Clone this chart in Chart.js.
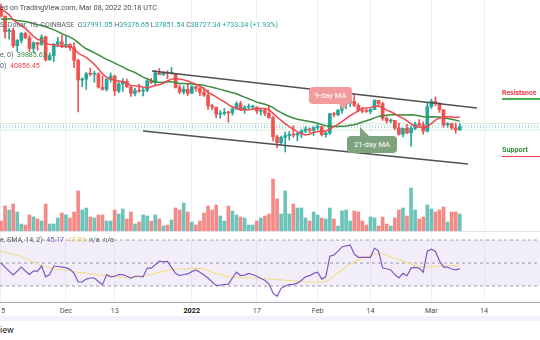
<!DOCTYPE html>
<html><head><meta charset="utf-8">
<script src="https://cdn.jsdelivr.net/npm/chart.js@4.4.1/dist/chart.umd.min.js"></script>
<style>
html,body{margin:0;padding:0;background:#fff;}
body{width:540px;height:340px;position:relative;overflow:hidden;font-family:Roboto,"Liberation Sans",sans-serif;}
canvas{position:absolute;left:0;}
.t{position:absolute;white-space:pre;line-height:1;}
.g{color:#5d606b;}
.up{color:#26a69a;}
.hl{position:absolute;left:0;width:540px;height:1px;}
.bub{position:absolute;color:#fff;font-size:7.6px;display:flex;align-items:center;justify-content:center;border-radius:4px;}
</style></head><body>
<canvas id="main" width="540" height="232" style="top:0"></canvas>
<canvas id="rsi" width="540" height="70" style="top:232px"></canvas>
<div class="hl" style="top:231px;background:#e0e3eb"></div>
<div class="hl" style="top:302px;background:#a3a6af"></div>
<div class="hl" style="top:316px;height:5px;background:#f0f3fa"></div>
<div id="xlabels"></div>

<div class="t g" style="left:0;top:4px;font-size:7.3px;color:#4a4d57">ed on TradingView.com, Mar 08, 2022 20:18 UTC</div>
<div class="t g" style="left:0;top:21px;font-size:7.1px">S. Dollar, 1D, COINBASE  <span>O</span><span class="up">37991.05</span> <span>H</span><span class="up">39376.65</span> <span>L</span><span class="up">37851.54</span> <span>C</span><span class="up">38727.34</span> <span class="up">+733.34 (+1.93%)</span></div>
<div class="t g" style="left:0;top:51px;font-size:7.1px">e, 0)  <span style="color:#3b8a3e">39885.63</span></div>
<div class="t g" style="left:0;top:62px;font-size:7.1px">0)  <span style="color:#f0484f">40856.45</span></div>
<div class="t g" style="left:0;top:236px;font-size:7.1px">e, SMA, 14, 2)  <span style="color:#7e57c2">45.17</span>  <span style="color:#e9cf5a">47.88</span>  n/a  n/a</div>
<div class="t" style="left:0;top:326px;font-size:9px;color:#131722">iew</div>

<div class="bub" style="left:309px;top:87px;width:43px;height:17px;background:#f29a9c">9-day MA</div>
<div style="position:absolute;left:339px;top:104px;width:0;height:0;border-left:4px solid transparent;border-right:4px solid transparent;border-top:6px solid #f29a9c"></div>
<div class="bub" style="left:347px;top:136px;width:50px;height:17px;background:#7fa380">21-day MA</div>
<div style="position:absolute;left:360px;top:127px;width:0;height:0;border-right:9px solid transparent;border-bottom:9px solid #7fa380"></div>

<div class="t" style="left:502px;top:89px;font-size:8px;font-weight:bold;color:#f23645;transform-origin:0 0;transform:scaleX(0.86)">Resistance</div>
<div class="hl" style="left:502px;width:38px;top:98px;height:1.5px;background:#4caf50"></div>
<div class="t" style="left:502px;top:146px;font-size:8px;font-weight:bold;color:#2e8b3a;transform-origin:0 0;transform:scaleX(0.9)">Support</div>
<div class="hl" style="left:502px;width:38px;top:155.5px;height:1.5px;background:#f23645"></div>

<script>
// ---- data (BTC/USD daily, Nov 15 2021 .. Mar 8 2022) ----
const startLabel = '2021-11-15';
const open = [65500,63600,60100,60400,56900,58100,59700,58700,56300,57600,
57200,58900,53700,54700,57300,57800,57000,57200,56500,53600,
49200,49400,50600,50500,50600,47600,47100,49400,50100,46700,
48300,48900,47600,46200,46800,46700,46900,49000,48600,50800,
50400,50800,50700,50700,47500,46500,47100,46200,47700,47300,
46400,45800,43400,43100,41500,41700,41900,41800,42700,43900,
42600,43100,43100,43100,42200,42400,41700,40700,36400,35100,
36300,36700,37000,36800,37200,37700,38200,37900,38500,38700,
36900,37300,41600,41400,42400,43800,44000,44400,43500,42400,
42200,42100,42600,44600,43900,40600,40000,40100,38400,37000,
38300,37300,38300,39200,39100,37700,43200,44400,44000,42500,
39100,39400,38400,37991];
const high = [66300,63600,60800,60900,58300,59900,60000,59300,57800,57700,
59400,59100,55300,57400,58800,59200,59000,57400,57600,53900,
49700,50900,51900,51200,50800,50100,49500,50800,50300,48700,
49500,49400,48000,47300,48300,47500,49300,49600,51400,51800,
51100,51300,52000,50700,48100,47900,48500,47900,47900,47500,
47500,47000,43700,43100,42300,42800,42200,43100,44300,44400,
43400,43800,43500,43200,42700,42600,43500,41100,36800,36600,
37500,37600,38900,37300,38000,38700,38400,38700,39300,38900,
37400,41700,41900,42600,44500,45500,44800,45800,43900,43000,
42700,42900,44800,44600,44200,40900,40400,40100,39500,38400,
39200,38900,39700,40300,39800,44000,44900,45400,44100,42500,
39600,39400,39500,39377];
const low = [63400,58600,58400,56500,55600,57500,58500,55600,55400,55900,
57000,53500,53700,53300,56700,56500,56500,55800,52000,42000,
47700,47100,50100,48700,47400,46900,46700,48700,45700,46300,
46600,47600,45500,45600,46400,45600,46600,48400,47900,50400,
50200,49500,50500,47400,46100,46000,45700,46200,46700,45700,
45500,42600,42500,40700,40600,41300,39700,41300,42500,42300,
41700,42600,42600,41600,41300,41200,40600,35500,34000,34600,
33000,35700,36300,35500,36200,37300,37400,36700,38000,36600,
36300,36900,40900,41100,41700,42700,43200,43200,42000,41800,
41900,41600,42500,43300,40100,39500,39600,38000,36800,36400,
37100,34300,38000,38700,37000,37500,42800,43400,41900,38600,
38600,38100,37200,37851];
const close = [63600,60100,60400,56900,58100,59700,58700,56300,57600,57200,
58900,53700,54700,57300,57800,57000,57200,56500,53600,49200,
49400,50600,50500,50600,47600,47100,49400,50100,46700,48300,
48900,47600,46200,46800,46700,46900,49000,48600,50800,50400,
50800,50700,50700,47500,46500,47100,46200,47700,47300,46400,
45800,43400,43100,41500,41700,41900,41800,42700,43900,42600,
43100,43100,43100,42200,42400,41700,40700,36400,35100,36300,
36700,37000,36800,37200,37700,38200,37900,38500,38700,36900,
37300,41600,41400,42400,43800,44000,44400,43500,42400,42200,
42100,42600,44600,43900,40600,40000,40100,38400,37000,38300,
37300,38300,39200,39100,37700,43200,44400,44000,42500,39100,
39400,38400,37990,38727];
// volume, thousand BTC
const volume = [11,26,22,28,20,8,7,17,15,13,
11,28,8,8,14,19,17,14,20,41,
22,24,15,14,17,17,11,11,22,18,
23,13,20,8,10,17,16,11,17,13,
6,7,12,24,22,29,20,10,7,11,
19,26,22,27,16,11,26,21,17,15,
14,7,7,11,14,16,18,53,33,18,
41,18,28,24,24,14,11,20,17,14,
13,24,13,6,21,22,11,21,20,11,
7,15,14,6,15,8,6,14,22,24,
16,44,22,13,15,27,23,20,22,25,
10,20,20,18];
const ma9 = [65000,64640,63860,62740,61990,61420,60820,59920,59040,58330,
58200,57460,57210,57120,56910,56720,56820,56700,56300,55220,
54740,54290,53530,52730,51690,50570,49780,49390,49110,48990,
48800,48480,47990,47900,47860,47580,47460,47670,47940,48110,
48470,48970,49400,49490,49440,49230,48970,48620,48280,47790,
47240,46430,45940,45390,44790,44310,43660,43140,42870,42510,
42480,42480,42660,42710,42770,42760,42530,41700,40870,40110,
39400,38720,38120,37540,37100,36820,36990,37370,37630,37660,
37690,38220,38690,39210,39830,40510,41170,41700,42310,42860,
42910,43040,43290,43300,42920,42430,42060,41610,41030,40610,
40020,39320,38800,38630,38380,38720,39390,40170,40630,40830,
40960,40870,40740,40856];
const ma21 = [62900,62890,62980,62800,62600,62500,62380,62150,61890,61610,
61500,61150,60820,60540,60080,59600,59240,58840,58340,57620,
56850,56230,55780,55310,54870,54340,53850,53440,52990,52540,
52150,51610,51250,50880,50370,49850,49470,49060,48790,48640,
48710,48780,48780,48640,48440,48420,48380,48300,48160,48150,
48030,47770,47550,47330,47090,46860,46610,46310,46090,45700,
45350,44990,44620,44220,43980,43750,43440,42980,42380,41850,
41390,40970,40660,40380,40200,40030,39840,39680,39490,39160,
38900,38830,38750,38720,38800,38870,39000,39130,39420,39760,
40030,40310,40680,41010,41180,41290,41380,41400,41330,41310,
41330,41380,41260,41150,40930,40900,40920,40900,40850,40700,
40560,40390,40170,39886];
const rsi = [50,46.5,43,39.6,43,46.5,43,40,43,43,
47.4,38,40,47.4,47,46.5,46,44.5,41,33.5,
33.5,36,37,37,34,31,40,38,38.5,40,
40,38.5,37,38.5,38.5,38,45.6,45.6,48.5,51.7,
51,51.5,46,41,39,40,40.5,42.5,44,42,
39.5,37,33.5,30.5,30.8,31.3,31.7,37,42,39,
39.5,41,40,38.5,36.5,35,31.7,24,21,28,
30,31.2,31.5,32.5,35,38,39,41,42,36,
38,56,57,60.4,64,65,65.6,58,55,55,
55,55,63,60.4,45.6,45,44,40,37,41,
39,45.6,46.2,45.6,42,60.4,62,60,52,46.5,
46.5,44.8,44,45.17];
const rsiMa = [60.4,59.5,58.6,57.7,56.8,55.5,54,52.5,51,49.5,
48,47,46,44.8,44.5,44.2,44,43.3,42.7,42,
41.5,41,40.6,40.2,39.7,39.4,39.1,38.8,38.5,38,
37.5,37,37.3,37.7,38,38.7,39.5,40.2,41,41.9,
42.8,43.6,44.5,44.8,44.8,44.8,44.9,45.2,45.4,45.6,
44.6,43.5,42,41,40,39,38.2,37.8,37.5,37.2,
37,37,37,37,37,36.6,36,35.8,35.5,35.3,
35,34.8,34.5,34,33.6,33.5,33.5,33.5,33.5,33.5,
33.5,36,39,41.5,44,46.5,49,51,52.5,54,
55.2,56.4,57.5,58.5,58,57,55.5,54,53,51.7,
50.5,49.2,47.8,47.2,47,46.6,46.6,47,47.3,47.5,
47.6,47.7,47.8,47.88];
// channel lines (day index, price)
const upperLineX = [37.2, 117.2], upperLineY = [51225, 42900];
const lowerLineX = [35.0, 115.0], lowerLineY = [37725, 30300];
const priceLevels = [39460, 37950];
const dottedLevels = [38900, 38480];
const rsiLevels = [70, 50, 30];
// x-axis ticks (day index from Nov 15)
const tickDays = [0, 16, 28, 47, 63, 78, 91, 106, 119];
const tickLabels = ['15', 'Dec', '13', '2022', '17', 'Feb', '14', 'Mar', '14'];

// ---- view ----
const X_MIN = -0.2463, X_MAX = 132.76;
const UP = '#26a69a', DN = '#ef5350';
const GRID = '#eef1f6';
const idx = close.map((_, i) => i);
const isUp = idx.map(i => close[i] >= open[i]);
const pts = arr => arr.map((v, i) => ({x: i, y: v}));
const seg = (xs, ys) => xs.map((x, i) => ({x, y: ys[i]}));
const hline = v => [{x: X_MIN, y: v}, {x: X_MAX, y: v}];

const xScale = () => ({
  type: 'linear', min: X_MIN, max: X_MAX, offset: false,
  afterFit: a => { a.height = 0; },
  afterBuildTicks: a => { a.ticks = tickDays.map(v => ({value: v})); },
  ticks: {display: false},
  grid: {color: GRID, drawTicks: false, offset: false},
  border: {display: false}
});

const mainDatasets = [
  {type: 'line', data: seg(upperLineX, upperLineY), borderColor: '#505050', borderWidth: 1.6, pointRadius: 0, order: 1},
  {type: 'line', data: seg(lowerLineX, lowerLineY), borderColor: '#505050', borderWidth: 1.6, pointRadius: 0, order: 1},
  {type: 'line', data: pts(ma9), borderColor: '#f0484f', borderWidth: 1.5, pointRadius: 0, order: 2},
  {type: 'line', data: pts(ma21), borderColor: '#3b8a3e', borderWidth: 1.5, pointRadius: 0, order: 2},
  {type: 'bar', data: idx.map(i => ({x: i, y: [Math.min(open[i], close[i]), Math.max(open[i], close[i])]})),
   backgroundColor: idx.map(i => isUp[i] ? UP : DN), barThickness: 3, grouped: false, minBarLength: 1, order: 3},
  {type: 'bar', data: idx.map(i => ({x: i, y: [low[i], high[i]]})),
   backgroundColor: idx.map(i => isUp[i] ? UP : DN), barThickness: 1, grouped: false, order: 4},
  {type: 'bar', data: pts(volume), yAxisID: 'yv',
   backgroundColor: idx.map(i => isUp[i] ? 'rgba(38,166,154,0.68)' : 'rgba(239,83,80,0.68)'), barThickness: 3, grouped: false, order: 6},
];
priceLevels.forEach(v => mainDatasets.push({type: 'line', data: hline(v), borderColor: '#d7ecd6', borderWidth: 1, pointRadius: 0, order: 7}));
dottedLevels.forEach(v => mainDatasets.push({type: 'line', data: hline(v), borderColor: '#8fc9d0', borderDash: [1, 2], borderWidth: 1, pointRadius: 0, order: 7}));

const mainChart = new Chart(document.getElementById('main'), {
  type: 'bar',
  data: {datasets: mainDatasets},
  options: {
    responsive: false, animation: false, devicePixelRatio: 1,
    layout: {padding: 0},
    plugins: {legend: {display: false}, tooltip: {enabled: false}},
    scales: {
      x: xScale(),
      y: {type: 'linear', min: 15000, max: 67200,
          afterFit: a => { a.width = 0; },
          ticks: {display: false, stepSize: 5000},
          grid: {color: c => (c.tick && c.tick.value % 5000 === 0) ? GRID : 'rgba(0,0,0,0)', drawTicks: false},
          border: {display: false}},
      yv: {type: 'linear', display: false, min: 0, max: 232}
    }
  }
});

const rsiDatasets = [
  {data: pts(rsi), borderColor: '#7e57c2', borderWidth: 1.2, pointRadius: 0, order: 1},
  {data: pts(rsiMa), borderColor: '#f3df8f', borderWidth: 1.2, pointRadius: 0, order: 2},
  {data: hline(rsiLevels[0]), borderColor: '#9a9da6', borderDash: [3, 3], borderWidth: 1, pointRadius: 0,
   fill: {value: rsiLevels[2]}, backgroundColor: 'rgba(126,87,194,0.1)', order: 5},
  {data: hline(rsiLevels[1]), borderColor: '#9a9da6', borderDash: [3, 3], borderWidth: 1, pointRadius: 0, order: 5},
  {data: hline(rsiLevels[2]), borderColor: '#9a9da6', borderDash: [3, 3], borderWidth: 1, pointRadius: 0, order: 5},
  {data: hline(17.5), borderColor: '#eef0f4', borderWidth: 1, pointRadius: 0, order: 6},
];
const rsiChart = new Chart(document.getElementById('rsi'), {
  type: 'line',
  data: {datasets: rsiDatasets},
  options: {
    responsive: false, animation: false, devicePixelRatio: 1,
    layout: {padding: 0},
    plugins: {legend: {display: false}, tooltip: {enabled: false}},
    scales: {
      x: xScale(),
      y: {type: 'linear', min: 16.1, max: 77, display: false}
    }
  }
});

// x tick labels placed through the chart's own x scale
const xl = document.getElementById('xlabels');
tickDays.forEach((d, i) => {
  const px = rsiChart.scales.x.getPixelForValue(d);
  const s = document.createElement('div');
  s.className = 't';
  s.textContent = tickLabels[i];
  const bold = tickLabels[i] === '2022';
  s.style.cssText = `top:306.5px;font-size:7.3px;color:${bold ? '#131722' : '#50535e'};font-weight:${bold ? 'bold' : 'normal'};left:${px}px;transform:translateX(-50%)`;
  xl.appendChild(s);
});
</script>
</body></html>
